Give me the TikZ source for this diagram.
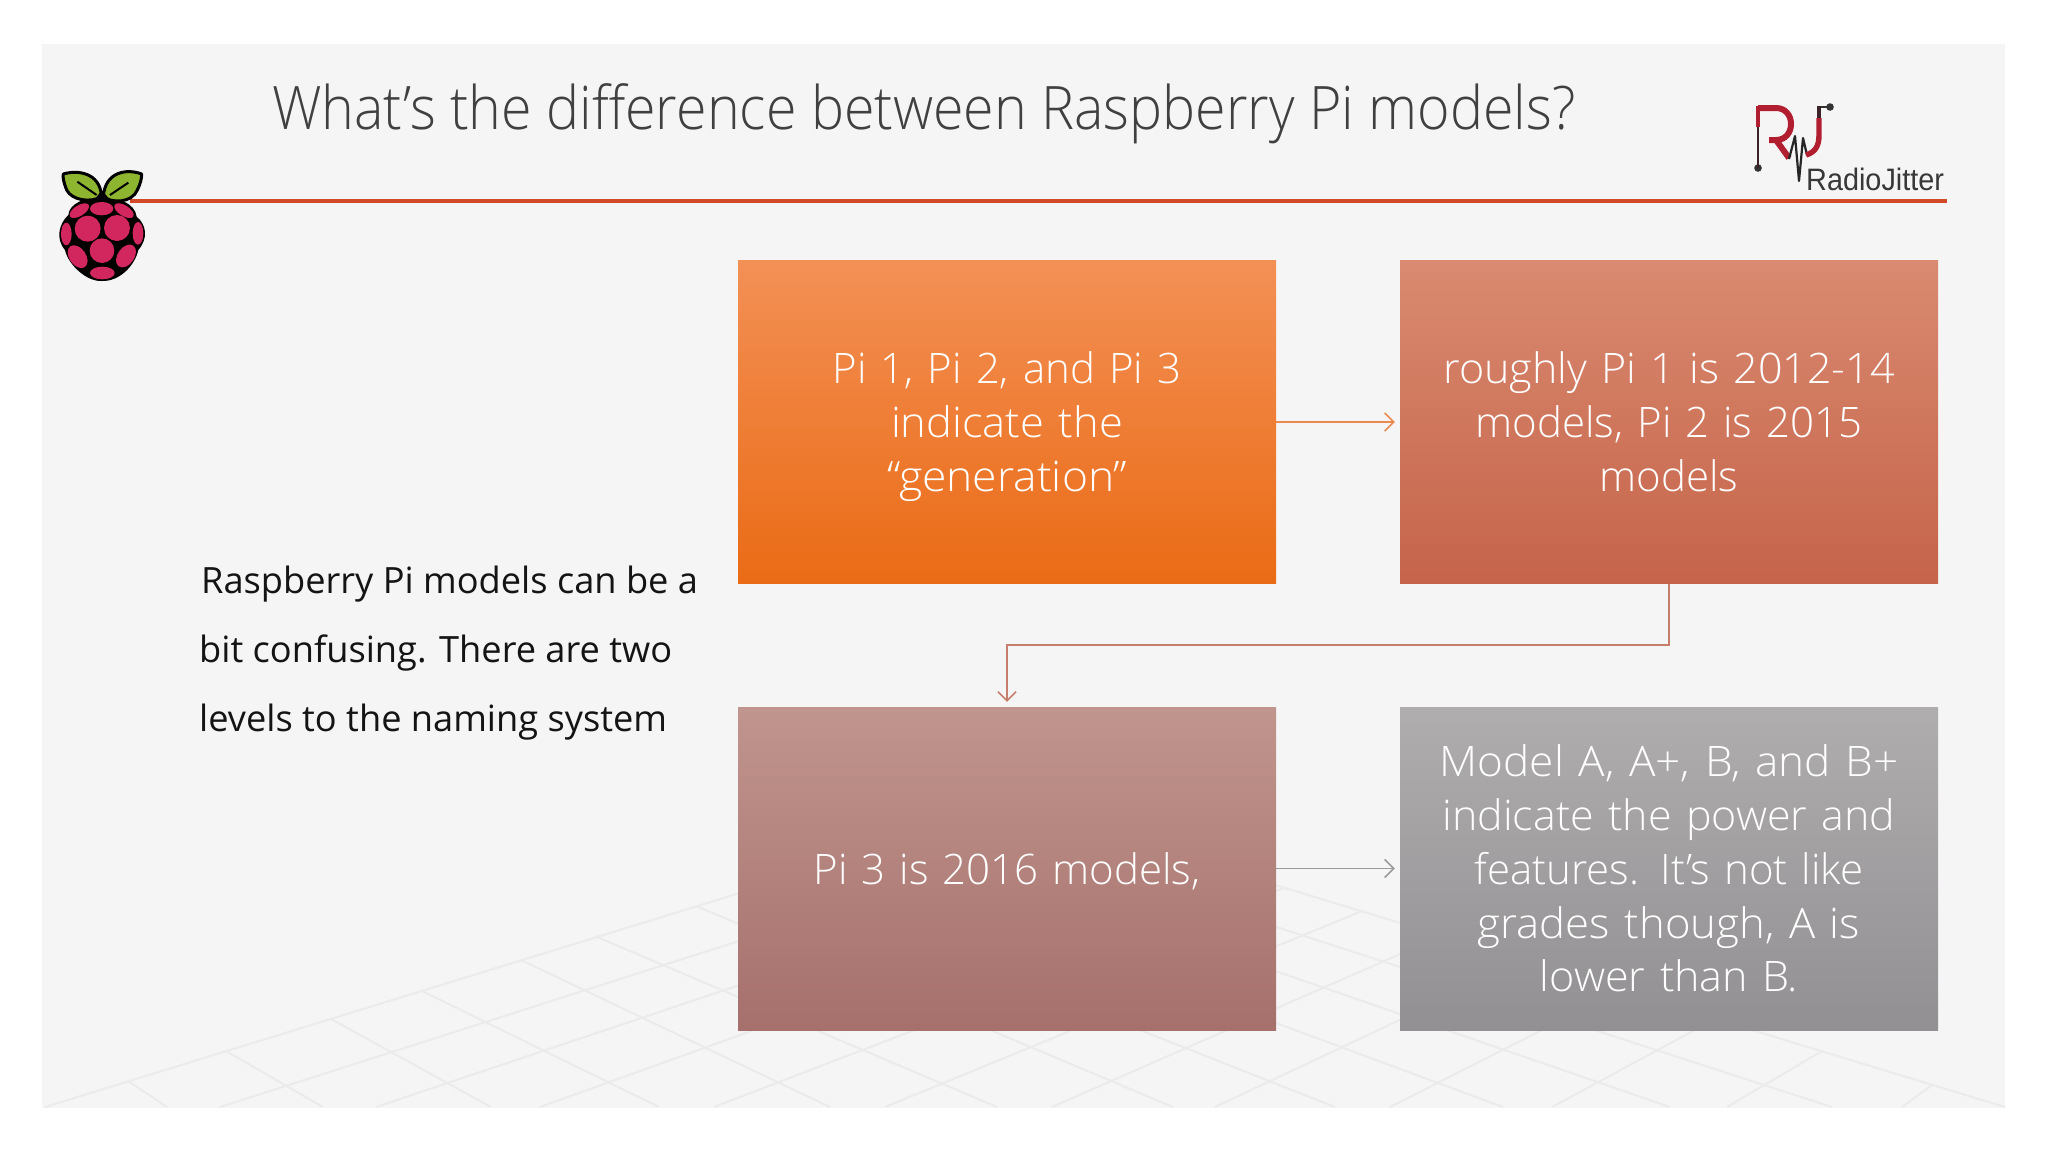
\documentclass[tikz,border=0pt]{standalone}
\usepackage{fontspec}
\usetikzlibrary{arrows.meta,calc}
\newfontfamily\lightfont{Open Sans Light}
\newfontfamily\regfont{Open Sans}
\newfontfamily\logofont{Liberation Sans}
\newcommand{\lw}[2]{\scalebox{#1}[1]{#2}}
\definecolor{slidebg}{HTML}{F6F5F6}
\definecolor{floorline}{HTML}{ECEBEC}
\definecolor{rule}{HTML}{D04A28}
\definecolor{pink}{HTML}{D2265E}
\definecolor{leaf}{HTML}{8DB52F}
\definecolor{logored}{HTML}{B01E30}
\definecolor{logodark}{HTML}{3A2226}
\definecolor{onetop}{HTML}{F39056}
\definecolor{onebot}{HTML}{EA6B15}
\definecolor{twotop}{HTML}{D98A70}
\definecolor{twobot}{HTML}{C5644A}
\definecolor{threetop}{HTML}{C0958D}
\definecolor{threebot}{HTML}{A6706C}
\definecolor{fourtop}{HTML}{AFADAD}
\definecolor{fourbot}{HTML}{929093}
\definecolor{connone}{HTML}{EB8A50}
\definecolor{conntwo}{HTML}{C67F6C}
\definecolor{connthree}{HTML}{9C9A9B}
\tikzset{
  x=1pt,y=-1pt,
  flow/.style={inner sep=0pt,minimum width=538pt,minimum height=323pt,text width=520pt,align=center,text=white,
    font={\lightfont\fontsize{42}{53.8}\selectfont},
    execute at begin node={\rule{0pt}{47.7pt}},execute at end node=\strut},
  conn/.style={line width=1.6pt,-{Straight Barb[length=9pt,width=18pt]},shorten >=5pt},
  floor/.style={floorline,line width=2pt},
  cell/.style={fill=pink,draw=none},
}
\begin{document}
\begin{tikzpicture}
\fill[white] (0,0) rectangle (2048,1152);
\fill[slidebg] (42,44) rectangle (2005,1108);
% floor grid
\begin{scope}
\clip (42,44) rectangle (2005,1108);
\draw[floor] (45,1107) -- (1019,807) -- (2005,1107);
\foreach \a/\b/\c in {220/1089/829,376/1151/847,540/1210/866,714/1284/888,885/1362/911,1052/1441/936,1215/1525/961,1390/1621/990,1552/1715/1019,1727/1822/1051,1902/1932/1085}
  \draw[floor] (\a,1107) -- (\b,\c);
\foreach \a/\b/\c in {167/128/1081,323/226/1051,491/331/1019,659/422/991,830/521/960,997/597/937,1173/696/906,1335/770/884,1503/841/862,1670/898/841,1832/962/825}
  \draw[floor] (\a,1107) -- (\b,\c);
\end{scope}
% title and rule
\node[anchor=base west,inner sep=0pt,text=black!75,font={\lightfont\fontsize{60}{72}\selectfont}] (title) at (272,129) {\lw{0.9255}{What’s the difference between Raspberry Pi models?}};
\fill[rule] (130,199) rectangle (1947,203);
% raspberry
\begin{scope}[scale=0.33333]
\fill[black] (305,590) .. controls (255,592) and (208,610) .. (205,645) .. controls (178,670) and (165,715) .. (195,750) .. controls (205,795) and (260,845) .. (305,843) .. controls (360,845) and (405,795) .. (415,750) .. controls (445,715) and (440,675) .. (410,650) .. controls (405,610) and (355,592) .. (305,590) -- cycle;
\fill[leaf,draw=black,line width=3pt,line join=round] (305,590) .. controls (270,610) and (215,600) .. (200,570) .. controls (190,545) and (188,530) .. (190,522) .. controls (230,510) and (300,515) .. (305,590) -- cycle;
\fill[leaf,draw=black,line width=3pt,line join=round] (310,590) .. controls (335,610) and (395,610) .. (412,570) .. controls (422,550) and (425,535) .. (425,522) .. controls (380,505) and (315,515) .. (310,590) -- cycle;
\draw[black,line width=2pt] (232,545) -- (290,585) (385,548) -- (330,585);
\fill[black] (280,605) -- (305,570) -- (335,605) -- cycle;
\fill[cell] (305,626) ellipse [x radius=35,y radius=20];
\fill[cell,rotate around={32:(238,632)}] (238,632) ellipse [x radius=33,y radius=16];
\fill[cell,rotate around={-32:(372,632)}] (372,632) ellipse [x radius=33,y radius=16];
\fill[cell] (263,686) circle [radius=39];
\fill[cell] (351,684) circle [radius=39];
\fill[cell] (199,702) ellipse [x radius=16,y radius=34];
\fill[cell] (414,700) ellipse [x radius=16,y radius=34];
\fill[cell] (306,752) circle [radius=37];
\fill[cell,rotate around={35:(233,770)}] (233,770) ellipse [x radius=25,y radius=38];
\fill[cell,rotate around={-35:(378,768)}] (378,768) ellipse [x radius=25,y radius=38];
\fill[cell] (307,819) ellipse [x radius=37,y radius=19];
\end{scope}
% logo
\fill[black!80] (1758,168) circle [radius=3.8];
\fill[black!80] (1830,107) circle [radius=3.8];
\draw[logodark,line width=2.4pt] (1758,168) -- (1758,125);
\draw[logored,line width=3.2pt] (1758,127) -- (1758,106);
\draw[black!80,line width=1.8pt] (1830,107) -- (1818,107);
\draw[logored,line width=6pt,line join=round] (1758,108) -- (1776,108) .. controls (1796,108) and (1796,140) .. (1776,140) -- (1769,140) (1776,140) -- (1789,158);
\draw[black!85,line width=2.2pt,line join=round] (1789,159) -- (1795,136) -- (1799,181) -- (1803,138) -- (1807,155);
\draw[logored,line width=5.4pt,line join=round] (1806,155) .. controls (1816,152) and (1819,145) .. (1819,135) -- (1819,118);
\draw[logodark,line width=4.4pt] (1819,118) -- (1819,106);
\node[anchor=base west,inner sep=0pt,text=black!78,font={\logofont\fontsize{31}{36}\selectfont}] (logo) at (1806,190) {\lw{0.93}{RadioJitter}};
% left text
\node[anchor=north west,inner sep=0pt,align=left,text=black!92,font={\regfont\fontsize{36.2}{69}\selectfont}] (intro) at (199,566) {\hspace*{2pt}Raspberry Pi models can be a\\bit confusing. There are two\\levels to the naming system};
% boxes
\node[flow,top color=onetop,bottom color=onebot] (b1) at (1007,422) {Pi 1, Pi 2, and Pi 3\\\lw{1.035}{indicate the}\\\lw{1.057}{“generation”}};
\node[flow,top color=twotop,bottom color=twobot] (b2) at (1669,422) {\lw{1.024}{roughly Pi 1 is 2012-14}\\models, Pi 2 is 2015\\models};
\node[flow,top color=threetop,bottom color=threebot] (b3) at (1007,868.5) {Pi 3 is 2016 models,};
\node[flow,top color=fourtop,bottom color=fourbot] (b4) at (1669,868.5) {\lw{1.05}{Model A, A+, B, and B+}\\\lw{1.024}{indicate the power and}\\features. It’s not like\\\lw{1.04}{grades though, A is}\\\lw{1.026}{lower than B.}};
% connectors
\coordinate (mid) at ($(b2.south)!.5!(b3.north)$);
\draw[conn,connone] (b1) -- (b2);
\draw[conn,conntwo] (b2.south) |- (mid) -| (b3.north);
\draw[conn,connthree] (b3) -- (b4);
\end{tikzpicture}
\end{document}
